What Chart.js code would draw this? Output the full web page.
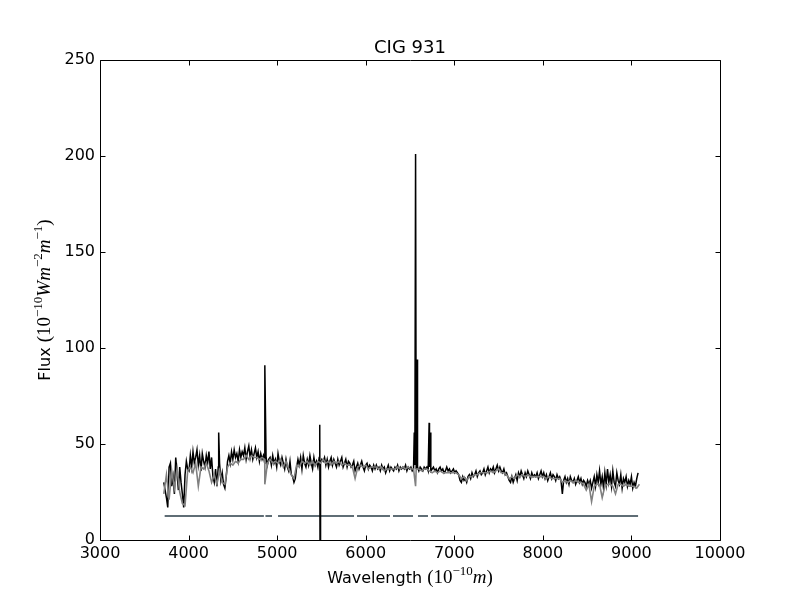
<!DOCTYPE html>
<html>
<head>
<meta charset="utf-8">
<title>CIG 931</title>
<script src="https://cdn.jsdelivr.net/npm/chart.js@4.4.1/dist/chart.umd.min.js"></script>
<style>
  html, body { margin: 0; padding: 0; background: #fff; }
  canvas { display: block; }
</style>
</head>
<body>
<canvas id="spectrum" width="800" height="600"></canvas>
<script>
// observed spectrum sampled every 15 A from 3720 A
const blackStart = 3720;
const blackStep = 15;
const blackFlux = [
    30, 26, 22, 17, 38, 40, 28, 33, 24, 43, 35, 26, 38, 30, 24, 17, 34, 41, 37, 36,
    44, 38, 46, 40, 43, 47, 39, 44, 36, 45, 41, 38, 44, 40, 46, 37, 43, 33, 30, 37,
    28, 38, 40, 31, 35, 29, 27, 33, 41, 44, 40, 46, 42, 47, 43, 45, 41, 47, 43, 46,
    44, 48, 42, 46, 49, 43, 47, 42, 45, 48, 43, 46, 41, 45, 42, 44, 40, 43, 39, 42,
    43, 39, 44, 40, 42, 38, 45, 41, 39, 43, 40, 37, 42, 38, 36, 41, 34, 33, 30, 32,
    38, 42, 39, 43, 37, 44, 40, 38, 42, 39, 44, 40, 37, 43, 39, 41, 38, 43, 40, 42,
    41, 43, 39, 42, 38, 41, 43, 39, 42, 40, 38, 42, 39, 41, 43, 38, 40, 42, 38, 41,
    40, 38, 39, 41, 36, 38, 40, 37, 39, 41, 38, 36, 39, 40, 37, 39, 38, 36, 39, 37,
    39, 37, 38, 36, 39, 37, 38, 35, 37, 39, 36, 38, 37, 36, 38, 37, 39, 36, 38, 37,
    38, 37, 39, 36, 38, 37, 38, 36, 37, 39, 37, 38, 36, 38, 37, 36, 38, 37, 38, 36,
    38, 36, 37, 38, 36, 37, 35, 37, 38, 36, 37, 35, 36, 38, 36, 37, 35, 36, 37, 35,
    36, 35, 34, 31, 30, 33, 31, 32, 30, 33, 34, 32, 35, 33, 34, 36, 33, 35, 36, 34,
    35, 37, 34, 36, 38, 35, 37, 36, 38, 35, 37, 39, 36, 38, 36, 35, 37, 34, 35, 33,
    31, 30, 33, 30, 32, 34, 31, 35, 33, 36, 34, 32, 35, 33, 36, 34, 32, 35, 33, 34,
    33, 35, 32, 34, 36, 33, 35, 32, 34, 31, 33, 35, 32, 34, 33, 31, 34, 32, 33, 31,
    24, 31, 33, 30, 32, 29, 33, 31, 30, 32, 29, 31, 33, 30, 32, 29, 31, 30, 28, 31,
    29, 31, 27, 30, 33, 28, 34, 30, 36, 29, 33, 27, 35, 29, 37, 30, 34, 28, 36, 30,
    28, 35, 31, 29, 34, 27, 32, 30, 33, 28, 31, 29, 33, 27, 30, 28, 32, 35
];

// model spectrum sampled every 30 A from 3720 A
const grayStart = 3720;
const grayStep = 30;
const grayFlux = [
    24, 34, 21, 36, 27, 37, 25, 19, 18, 36,
    38, 35, 40, 28, 38, 37, 40, 36, 30, 34,
    29, 36, 30, 29, 38, 40, 39, 41, 40, 42,
    42, 44, 42, 44, 43, 43, 42, 43, 42, 40,
    42, 40, 41, 40, 42, 38, 41, 37, 34, 32,
    39, 38, 41, 40, 41, 39, 41, 39, 41, 40,
    42, 40, 41, 39, 41, 40, 41, 39, 40, 39,
    39, 38, 32, 38, 39, 38, 39, 37, 38, 38,
    38, 37, 38, 36, 37, 37, 37, 37, 38, 37,
    38, 37, 38, 37, 37, 37, 37, 36, 37, 37,
    36, 35, 36, 35, 36, 35, 35, 35, 35, 35,
    35, 34, 32, 33, 31, 33, 33, 34, 34, 35,
    35, 35, 35, 36, 35, 36, 37, 35, 35, 34,
    32, 33, 32, 34, 33, 34, 33, 34, 33, 33,
    33, 33, 33, 33, 32, 33, 32, 32, 32, 32,
    30, 31, 30, 31, 30, 31, 30, 30, 29, 26,
    29, 20, 28, 29, 29, 22, 28, 29, 29, 28,
    24, 29, 29, 28, 29, 28, 28, 28, 27, 29
];

// narrow features [wavelength, flux]
const blackLines = [[4340, 56], [4861, 91], [5481, 60], [5484, 0], [6548, 56], [6563, 201], [6583, 94], [6716, 61], [6731, 56]];
const grayLines = [[4861, 29], [6563, 28]];

// masked-region bar
const maskStart = [3730, 4868, 5010, 5902, 6308, 6590, 6737];
const maskEnd = [4850, 4942, 5868, 6274, 6534, 6703, 9075];
const maskLevel = 12.5;

const xMin = 3000, xMax = 10000, xStep = 1000;
const yMin = 0, yMax = 250, yStep = 50;

const titleText = 'CIG 931';

function buildSeries(start, step, flux, lines) {
    const pts = flux.map((y, i) => ({ x: start + i * step, y: y }));
    lines.forEach(([x, y]) => pts.push({ x: x, y: y }));
    pts.sort((a, b) => a.x - b.x);
    return pts;
}

function buildMask() {
    const pts = [];
    maskStart.forEach((s, i) => {
        pts.push({ x: s, y: maskLevel });
        pts.push({ x: maskEnd[i], y: maskLevel });
        pts.push({ x: maskEnd[i] + 1, y: null });
    });
    return pts;
}

const SANS = "'DejaVu Sans', sans-serif";
const SERIF = "'Liberation Serif', 'DejaVu Serif', serif";

const xLabelParts = [
    { t: 'Wavelength ', f: '16px ' + SANS },
    { t: '(10', f: '19px ' + SERIF },
    { t: '\u221210', f: '13px ' + SERIF, sup: true },
    { t: 'm', f: 'italic 19px ' + SERIF },
    { t: ')', f: '19px ' + SERIF }
];

const yLabelParts = [
    { t: 'Flux ', f: '16px ' + SANS },
    { t: '(10', f: '19px ' + SERIF },
    { t: '\u221210', f: '13px ' + SERIF, sup: true },
    { t: 'Wm', f: 'italic 19px ' + SERIF },
    { t: '\u22122', f: '13px ' + SERIF, sup: true },
    { t: 'm', f: 'italic 19px ' + SERIF },
    { t: '\u22121', f: '13px ' + SERIF, sup: true },
    { t: ')', f: '19px ' + SERIF }
];

function drawRich(ctx, parts, cx, cy, angle) {
    ctx.save();
    ctx.translate(cx, cy);
    ctx.rotate(angle);
    ctx.textBaseline = 'alphabetic';
    ctx.textAlign = 'left';
    let total = 0;
    parts.forEach(p => { ctx.font = p.f; total += ctx.measureText(p.t).width; });
    let x = -total / 2;
    parts.forEach(p => {
        ctx.font = p.f;
        ctx.fillText(p.t, x, p.sup ? -8 : 0);
        x += ctx.measureText(p.t).width;
    });
    ctx.restore();
}

// matplotlib-like frame: inward ticks on all sides, title, axis labels
const framePlugin = {
    id: 'frame',
    afterDraw(chart) {
        const { ctx, chartArea: a, scales } = chart;
        const L = Math.round(a.left) + 0.5, R = Math.round(a.right) + 0.5;
        const T = Math.round(a.top) + 0.5, B = Math.round(a.bottom) + 0.5;
        ctx.save();
        ctx.strokeStyle = '#000';
        ctx.lineWidth = 1;
        ctx.beginPath();
        ctx.rect(L, T, R - L, B - T);
        scales.x.ticks.forEach(t => {
            const px = Math.round(scales.x.getPixelForValue(t.value)) + 0.5;
            ctx.moveTo(px, B); ctx.lineTo(px, B - 5);
            ctx.moveTo(px, T); ctx.lineTo(px, T + 5);
        });
        scales.y.ticks.forEach(t => {
            const py = Math.round(scales.y.getPixelForValue(t.value)) + 0.5;
            ctx.moveTo(L, py); ctx.lineTo(L + 5, py);
            ctx.moveTo(R, py); ctx.lineTo(R - 5, py);
        });
        ctx.stroke();

        ctx.fillStyle = '#000';
        ctx.font = '18px ' + SANS;
        ctx.textAlign = 'center';
        ctx.textBaseline = 'alphabetic';
        ctx.fillText(titleText, (a.left + a.right) / 2, 53);

        drawRich(ctx, xLabelParts, (a.left + a.right) / 2, 583, 0);
        drawRich(ctx, yLabelParts, 50, (a.top + a.bottom) / 2, -Math.PI / 2);
        ctx.restore();
    }
};

const ctx = document.getElementById('spectrum').getContext('2d');

new Chart(ctx, {
    type: 'line',
    data: {
        datasets: [
            {
                label: 'model',
                data: buildSeries(grayStart, grayStep, grayFlux, grayLines),
                borderColor: '#808080',
                borderWidth: 1.6,
                pointRadius: 0,
                tension: 0,
                order: 0
            },
            {
                label: 'observed',
                data: buildSeries(blackStart, blackStep, blackFlux, blackLines),
                borderColor: '#000',
                borderWidth: 1.5,
                pointRadius: 0,
                tension: 0,
                order: 1
            },
            {
                label: 'mask',
                data: buildMask(),
                borderColor: '#5f6d75',
                borderWidth: 2,
                pointRadius: 0,
                spanGaps: false,
                order: 2
            }
        ]
    },
    options: {
        responsive: false,
        animation: false,
        devicePixelRatio: 1,
        layout: { padding: { left: 0, right: 80, top: 60, bottom: 0 } },
        plugins: {
            legend: { display: false },
            tooltip: { enabled: false },
            title: { display: false }
        },
        scales: {
            x: {
                type: 'linear',
                min: xMin,
                max: xMax,
                grid: { display: false, drawTicks: false },
                border: { display: false },
                ticks: {
                    stepSize: xStep,
                    padding: 4,
                    color: '#000',
                    maxRotation: 0,
                    font: { family: SANS, size: 16 },
                    callback: value => String(value)
                },
                afterFit: s => { s.height = 60; }
            },
            y: {
                min: yMin,
                max: yMax,
                grid: { display: false, drawTicks: false },
                border: { display: false },
                ticks: {
                    stepSize: yStep,
                    padding: 5,
                    color: '#000',
                    font: { family: SANS, size: 16 },
                    callback: value => String(value)
                },
                afterFit: s => { s.width = 100; }
            }
        }
    },
    plugins: [framePlugin]
});
</script>
</body>
</html>
